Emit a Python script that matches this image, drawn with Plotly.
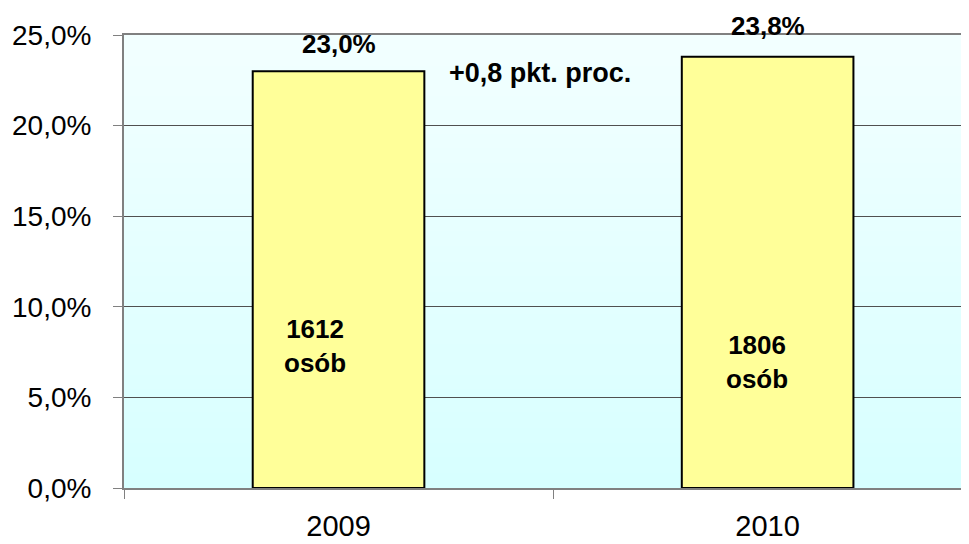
import plotly.graph_objects as go

categories = ["2009", "2010"]
share_pct = [23.0, 23.8]
persons = [1612, 1806]
change_label = "+0,8 pkt. proc."
y_ticks = [0, 0.05, 0.10, 0.15, 0.20, 0.25]

FONT = "Liberation Sans, Arial, sans-serif"
values = [v / 100 for v in share_pct]

fig = go.Figure()
fig.add_trace(go.Bar(
    x=categories, y=values, width=0.4,
    marker=dict(color="#FFFF99", line=dict(color="#000000", width=2)),
    hoverinfo="skip",
))

# gradient background via thin rectangles
n = 60
top = (242, 255, 255)
bot = (215, 255, 255)
shapes = []
for i in range(n):
    t = i / (n - 1)
    c = tuple(round(bot[k] + (top[k] - bot[k]) * t) for k in range(3))
    shapes.append(dict(type="rect", xref="x domain", yref="y domain",
                       x0=0, x1=1, y0=i / n, y1=(i + 1) / n + 0.002,
                       fillcolor="rgb(%d,%d,%d)" % c, line=dict(width=0),
                       layer="below"))

annotations = []
label_shift = [27, 31]
for i, (v, pct, sh) in enumerate(zip(values, share_pct, label_shift)):
    annotations.append(dict(x=i, y=v, xref="x", yref="y",
                            text="<b>%s%%</b>" % ("%.1f" % pct).replace(".", ","),
                            showarrow=False, yshift=sh,
                            font=dict(size=26, family=FONT, color="black")))
inner_pos = [(-0.055, 0.0784), (0.975, 0.0695)]
for (xp, yp), p in zip(inner_pos, persons):
    annotations.append(dict(x=xp, y=yp, xref="x", yref="y", text="<b>%d<br>osób</b>" % p,
                            showarrow=False, font=dict(size=26, family=FONT, color="black")))
annotations.append(dict(x=0.47, y=0.229, xref="x", yref="y", text="<b>%s</b>" % change_label,
                        showarrow=False, font=dict(size=27, family=FONT, color="black")))

fig.update_layout(
    width=969, height=544,
    margin=dict(l=116, r=0, t=27, b=64),
    paper_bgcolor="white", plot_bgcolor="#E8FFFF",
    separators=",.",
    showlegend=False,
    shapes=shapes,
    annotations=annotations,
    font=dict(family=FONT, color="black"),
    xaxis=dict(type="category", range=[-0.5, 1.488], tickson="boundaries",
               ticks="outside", ticklen=9, tickcolor="#808080", tickwidth=1,
               showline=True, linecolor="#808080", linewidth=2, mirror=True,
               showgrid=False, tickfont=dict(size=29, family=FONT, color="black"),
               ticklabelstandoff=11),
    yaxis=dict(range=[0, 0.25], tickvals=y_ticks, tickformat=".1%",
               ticks="outside", ticklen=9, tickcolor="#808080", tickwidth=1,
               showline=True, linecolor="#808080", linewidth=2,
               showgrid=True, gridcolor="#505050", gridwidth=1, zeroline=False,
               tickfont=dict(size=28, family=FONT, color="black"),
               ticklabelstandoff=16),
)

fig.write_html("out.html")
